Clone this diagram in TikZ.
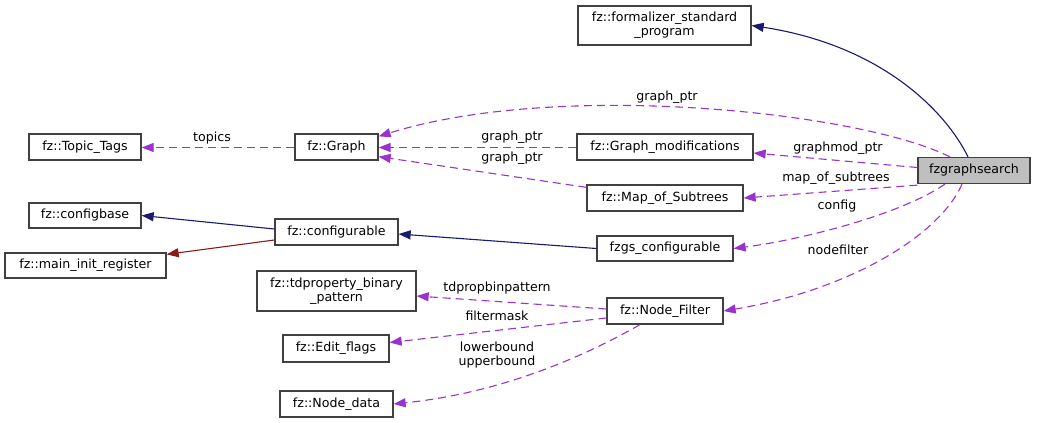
\documentclass[tikz,border=0pt]{standalone}
\usepackage{fontspec}
\setmainfont{DejaVu Sans}
\usetikzlibrary{arrows.meta,calc}
\definecolor{edgepurple}{HTML}{9A32CD}
\definecolor{edgenavy}{HTML}{191970}
\definecolor{edgered}{HTML}{8B1A1A}
\definecolor{boxgray}{HTML}{404040}
\begin{document}
\begin{tikzpicture}[x=1pt, y=-1pt,
    cls/.style={draw=boxgray, fill=white, line width=1.3pt, minimum height=26pt, inner sep=2pt, font=\fontsize{12.6}{14}\selectfont, align=center},
    lbl/.style={inner sep=1pt, font=\fontsize{12.6}{14}\selectfont, align=center},
    uses/.style={edgepurple, dash pattern=on 8pt off 5pt, line width=1.1pt, -{Triangle[length=12pt, width=9pt]}},
    inh/.style={edgenavy, line width=1.1pt, -{Triangle[length=12pt, width=9pt]}},
    inhred/.style={edgered, line width=1.1pt, -{Triangle[length=12pt, width=9pt]}}]
    \useasboundingbox (0,0) rectangle (1039,423);
    % classes
    \node[cls, minimum width=173pt, minimum height=39pt] (fsp) at (664.5,25.5) {fz::formalizer\_standard\\\_program};
    \node[cls, minimum width=112pt, fill={rgb,255:red,191;green,191;blue,191}] (fzs) at (974,170.5) {fzgraphsearch};
    \node[cls, minimum width=176pt] (gmod) at (665,147) {fz::Graph\_modifications};
    \node[cls, minimum width=156pt] (mos) at (665,198) {fz::Map\_of\_Subtrees};
    \node[cls, minimum width=136pt, minimum height=25pt] (fzgscfg) at (665,248.5) {fzgs\_configurable};
    \node[cls, minimum width=116pt] (nf) at (665,311) {fz::Node\_Filter};
    \node[cls, minimum width=83pt] (graph) at (336.5,147) {fz::Graph};
    \node[cls, minimum width=112pt] (tags) at (85,147) {fz::Topic\_Tags};
    \node[cls, minimum width=112pt, minimum height=25pt] (cbase) at (85,215.5) {fz::configbase};
    \node[cls, minimum width=123pt] (cfg) at (336.5,232) {fz::configurable};
    \node[cls, minimum width=161pt, minimum height=25pt] (mir) at (85.5,265.5) {fz::main\_init\_register};
    \node[cls, minimum width=159pt, minimum height=40pt] (tdp) at (336.5,291) {fz::tdproperty\_binary\\\_pattern};
    \node[cls, minimum width=106pt, minimum height=27pt] (ef) at (336,348.5) {fz::Edit\_flags};
    \node[cls, minimum width=113pt] (nd) at (336.5,404) {fz::Node\_data};
    % inheritance
    \draw[inh] ($(fzs.north)+(-6,0)$) .. controls (945,110) and (880,45) .. (fsp.east);
    \draw[inh] ($(cfg.west)+(0,-3)$) -- (cbase.east);
    \draw[inhred] ($(cfg.west)+(0,8)$) -- ($(mir.north east)+(0,2)$);
    \draw[inh] (fzgscfg.west) -- ($(cfg.east)+(0,2)$);
    % usage
    \draw[uses] ($(fzs.north)+(-24,0)$) .. controls (860,112) and (560,80) .. ($(graph.north east)+(0,3)$);
    \draw[uses] ($(gmod.west)+(0,0.5)$) -- ($(graph.east)+(0,0.5)$);
    \draw[uses] ($(mos.north west)+(0,3)$) -- ($(graph.south east)+(0,-4)$);
    \draw[uses] ($(fzs.west)+(0,-3)$) -- ($(gmod.east)+(0,6)$);
    \draw[uses] ($(fzs.south west)+(0,1)$) -- (mos.east);
    \draw[uses] ($(fzs.south)+(-29,0)$) .. controls (900,215) and (800,240) .. (fzgscfg.east);
    \draw[uses] ($(fzs.south)+(-12,0)$) .. controls (940,235) and (850,290) .. (nf.east);
    \draw[uses] ($(graph.west)+(0,0.5)$) -- ($(tags.east)+(0,0.5)$);
    \draw[uses] ($(nf.west)+(0,-2)$) -- ($(tdp.east)+(0,5)$);
    \draw[uses] ($(nf.west)+(0,7)$) -- ($(ef.east)+(0,-6)$);
    \draw[uses] ($(nf.south)+(-25,0)$) .. controls (560,370) and (480,395) .. (nd.east);
    % labels
    \node[lbl] (lgp) at (667,97) {graph\_ptr};
    \node[lbl] (lgp2) at (512,137) {graph\_ptr};
    \node[lbl] (lgp3) at (512,158) {graph\_ptr};
    \node[lbl] (lgmod) at (838,148) {graphmod\_ptr};
    \node[lbl] (lmos) at (836,178) {map\_of\_subtrees};
    \node[lbl] (lcfg) at (837,206) {config};
    \node[lbl] (lnf) at (838,250) {nodefilter};
    \node[lbl] (ltop) at (212,138) {topics};
    \node[lbl] (ltdp) at (497,288) {tdpropbinpattern};
    \node[lbl] (lfm) at (497,316) {filtermask};
    \node[lbl] (lbnd) at (497,355) {lowerbound\\upperbound};
\end{tikzpicture}
\end{document}
